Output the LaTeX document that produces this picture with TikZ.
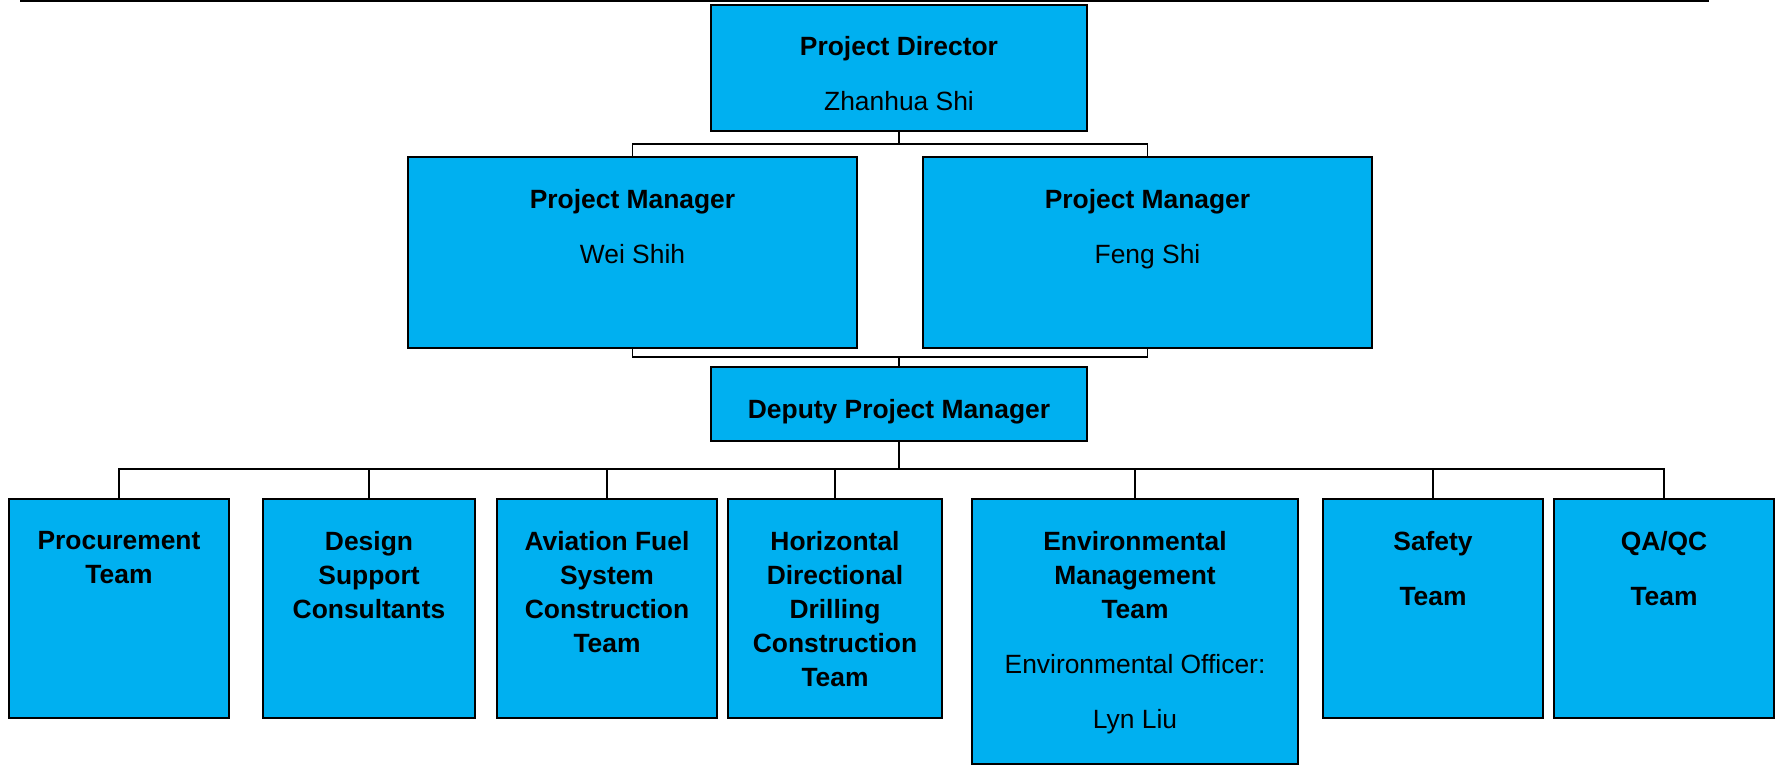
\documentclass[tikz,border=0pt]{standalone}
\usepackage{fontspec}
\setmainfont{Liberation Sans}
\usepackage{tikz}
\usetikzlibrary{positioning}
\definecolor{chartblue}{RGB}{0,176,240}
\tikzstyle{unit}=[draw, fill=chartblue, line width=0.6pt, inner sep=0pt, outer sep=0pt, anchor=north west]
\tikzstyle{caption}=[align=center, inner sep=0pt, font=\fontsize{13.2}{17}\selectfont]
\tikzstyle{bcaption}=[caption, font=\fontsize{13.2}{17}\selectfont\bfseries]
\tikzstyle{link}=[line width=0.7pt]

\begin{document}
\begin{tikzpicture}[x=0.5pt, y=-0.5pt]
    \useasboundingbox (0,0) rectangle (1775,765);
    \draw[line width=1pt] (20,1) -- (1709,1);

    % management
    \node[unit, minimum width=188pt, minimum height=63pt]     (pd)  at (711,5) {};
    \node[unit, minimum width=224.5pt, minimum height=95.5pt] (pm1) at (408,157) {};
    \node[unit, minimum width=224.5pt, minimum height=95.5pt] (pm2) at (923,157) {};
    \node[unit, minimum width=188pt, minimum height=37pt]     (dpm) at (711,367) {};

    % teams
    \node[unit, minimum width=110pt, minimum height=109.5pt] (t1) at (9,499) {};
    \node[unit, minimum width=106pt, minimum height=109.5pt] (t2) at (263,499) {};
    \node[unit, minimum width=110pt, minimum height=109.5pt] (t3) at (497,499) {};
    \node[unit, minimum width=107pt, minimum height=109.5pt] (t4) at (728,499) {};
    \node[unit, minimum width=163pt, minimum height=132.5pt] (t5) at (972,499) {};
    \node[unit, minimum width=110pt, minimum height=109.5pt] (t6) at (1323,499) {};
    \node[unit, minimum width=110pt, minimum height=109.5pt] (t7) at (1554,499) {};

    \node[caption, below=15.5pt of pd.north] (pdtext) {\textbf{Project Director}\\[10.5pt]Zhanhua Shi};
    \node[caption, below=16pt of pm1.north] (pm1text) {\textbf{Project Manager}\\[10.5pt]Wei Shih};
    \node[caption, below=16pt of pm2.north] (pm2text) {\textbf{Project Manager}\\[10.5pt]Feng Shi};
    \node[bcaption, below=16pt of dpm.north] (dpmtext) {Deputy Project Manager};

    \node[bcaption, below=16pt of t1.north] (t1text) {Procurement\\Team};
    \node[bcaption, below=16pt of t2.north] (t2text) {Design\\Support\\Consultants};
    \node[bcaption, below=16pt of t3.north] (t3text) {Aviation Fuel\\System\\Construction\\Team};
    \node[bcaption, below=16pt of t4.north] (t4text) {Horizontal\\Directional\\Drilling\\Construction\\Team};
    \node[caption, below=16pt of t5.north] (t5text) {\textbf{Environmental}\\\textbf{Management}\\\textbf{Team}\\[10.5pt]Environmental Officer:\\[10.5pt]Lyn Liu};
    \node[bcaption, below=16pt of t6.north] (t6text) {Safety\\[10.5pt]Team};
    \node[bcaption, below=16pt of t7.north] (t7text) {QA/QC\\[10.5pt]Team};

    % connectors
    \coordinate (topbus) at (899,144);
    \coordinate (midbus) at (899,357);
    \coordinate (lowbus) at (899,469);
    \draw[link] (pd.south) -- (topbus) -| (pm1.north);
    \draw[link] (topbus) -| (pm2.north);
    \draw[link] (pm1.south) |- (midbus) -| (pm2.south);
    \draw[link] (midbus) -- (dpm.north);
    \draw[link] (dpm.south) -- (lowbus);
    \foreach \t in {t1,t2,t3,t4,t5,t6,t7}
        \draw[link] (lowbus) -| (\t.north);
\end{tikzpicture}
\end{document}
